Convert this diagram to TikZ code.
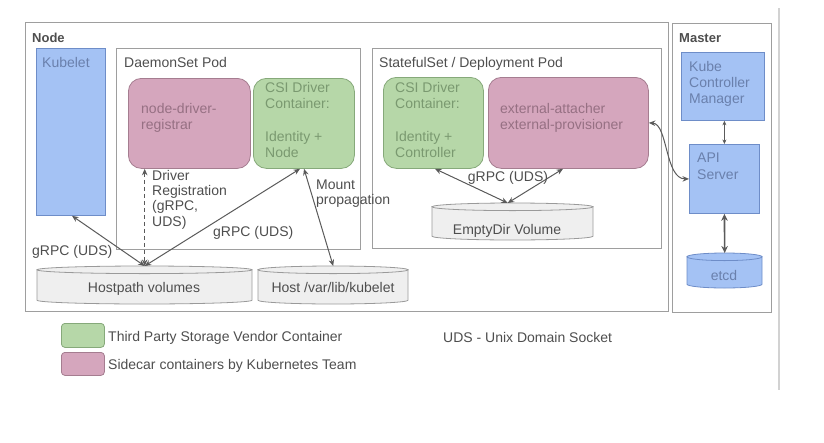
\documentclass[tikz,border=0pt]{standalone}
\usepackage{fontspec}
\setmainfont{Liberation Sans}
\usetikzlibrary{arrows.meta,calc}
\definecolor{framegray}{HTML}{9E9E9E}
\definecolor{kblue}{HTML}{A4C2F4}
\definecolor{kbluedark}{HTML}{6E8DC8}
\definecolor{kbluetext}{HTML}{6A80AC}
\definecolor{kpink}{HTML}{D5A6BD}
\definecolor{kpinkdark}{HTML}{A57D90}
\definecolor{kpinktext}{HTML}{967083}
\definecolor{kgreen}{HTML}{B6D7A8}
\definecolor{kgreendark}{HTML}{86A97A}
\definecolor{kgreentext}{HTML}{7A9970}
\definecolor{cylfill}{HTML}{EFEFEF}
\definecolor{cylline}{HTML}{9A9A9A}
\definecolor{darktext}{HTML}{4E4E4E}
\definecolor{arrowgray}{HTML}{5A5A5A}
\definecolor{sepline}{HTML}{D2D2D2}
\newcommand{\drawcyl}[6]{%
  \pgfmathsetmacro{\cyCx}{(#1+#3)/2}%
  \pgfmathsetmacro{\cyRx}{(#3-#1)/2}%
  \pgfmathsetmacro{\cyTa}{#2+3.8}%
  \pgfmathsetmacro{\cyTb}{#4-3.8}%
  \filldraw[fill=#5, draw=#6, line width=0.8pt] (#1,\cyTa) -- (#1,\cyTb) arc[start angle=180, end angle=360, x radius=\cyRx pt, y radius=3.8pt] -- (#3,\cyTa) -- cycle;
  \filldraw[fill=#5, draw=#6, line width=0.8pt] (\cyCx,\cyTa) ellipse[x radius=\cyRx pt, y radius=3.8pt];
}
\tikzset{
  frame/.style={draw=framegray, line width=0.9pt, anchor=north west, inner sep=0pt},
  bluebox/.style={fill=kblue, draw=kbluedark, line width=0.8pt, anchor=north west, inner sep=0pt},
  pinkbox/.style={fill=kpink, draw=kpinkdark, line width=0.8pt, rounded corners=13pt, anchor=north west, inner sep=0pt},
  greenbox/.style={fill=kgreen, draw=kgreendark, line width=0.8pt, rounded corners=13pt, anchor=north west, inner sep=0pt},
  hole/.style={draw=none, anchor=north west, inner sep=0pt},
  txt/.style={font=\fontsize{14pt}{16.3pt}\selectfont, text=darktext, inner sep=0pt, align=left},
  title/.style={font=\fontsize{13pt}{15pt}\selectfont\bfseries, text=darktext, inner sep=0pt, anchor=base west},
  arr/.style={draw=arrowgray, line width=1pt, {Stealth[length=6.5pt,width=5.5pt]}-{Stealth[length=6.5pt,width=5.5pt]}},
}
\begin{document}
\begin{tikzpicture}[x=1pt,y=-1pt]
\useasboundingbox (0,0) rectangle (824,442);
% separator line
\coordinate (sepTop) at (779,8);
\coordinate (sepBot) at (779,390);
\draw[sepline, line width=2pt] (sepTop) -- (sepBot);
% frames
\node[frame, minimum width=643pt, minimum height=289pt] (nodebox) at (25,22) {};
\node[frame, minimum width=99pt, minimum height=289pt] (masterbox) at (672,23) {};
\node[frame, minimum width=244pt, minimum height=201pt] (dspod) at (116,48) {};
\node[frame, minimum width=289pt, minimum height=200pt] (sspod) at (372,48) {};
% colored boxes
\node[bluebox, minimum width=69pt, minimum height=167pt] (kubelet) at (36,48) {};
\node[pinkbox, minimum width=122pt, minimum height=90pt] (reg) at (128,78) {};
\node[greenbox, minimum width=101pt, minimum height=90pt] (csin) at (253,78) {};
\node[greenbox, minimum width=100pt, minimum height=91pt] (csic) at (383,77) {};
\node[pinkbox, minimum width=160pt, minimum height=91pt] (ext) at (488,77) {};
\node[bluebox, minimum width=83pt, minimum height=68pt] (kcm) at (681,52) {};
\node[bluebox, minimum width=70pt, minimum height=69pt] (api) at (689,144) {};
% cylinders
\drawcyl{37}{266}{252}{304}{cylfill}{cylline}
\node[hole, minimum width=215pt, minimum height=38pt] (hostpath) at (37,266) {};
\drawcyl{258}{266}{408}{304}{cylfill}{cylline}
\node[hole, minimum width=150pt, minimum height=38pt] (hostkub) at (258,266) {};
\drawcyl{432}{203}{593}{240}{cylfill}{cylline}
\node[hole, minimum width=161pt, minimum height=37pt] (emptydir) at (432,203) {};
\drawcyl{687}{253}{762}{288}{kblue}{kbluedark}
\node[hole, minimum width=75pt, minimum height=35pt] (etcd) at (687,253) {};
% legend boxes
\node[fill=kgreen, draw=kgreendark, line width=0.8pt, rounded corners=3.5pt, anchor=north west, inner sep=0pt, minimum width=43pt, minimum height=24pt] (leggreen) at (61,323) {};
\node[fill=kpink, draw=kpinkdark, line width=0.8pt, rounded corners=3.5pt, anchor=north west, inner sep=0pt, minimum width=43pt, minimum height=23pt] (legpink) at (61,352) {};
% titles
\node[title] (tNode) at (32,42) {Node};
\node[title] (tMaster) at (679,42.5) {Master};
\node[txt, anchor=base west, text=kbluetext] (tKubelet) at (42,67) {Kubelet};
\node[txt, anchor=base west] (tDs) at (124,67) {DaemonSet Pod};
\node[txt, anchor=base west] (tSs) at (379,67) {StatefulSet / Deployment Pod};
% box texts
\node[txt, anchor=north west, text=kpinktext] (tReg) at (141,103) {node-driver-\\registrar};
\node[txt, anchor=north west, text=kgreentext] (tCsin) at (265,82) {CSI Driver\\Container:\\[16.3pt]Identity +\\Node};
\node[txt, anchor=north west, text=kgreentext] (tCsic) at (395,82) {CSI Driver\\Container:\\[16.3pt]Identity +\\Controller};
\node[txt, anchor=north west, text=kpinktext] (tExt) at (500,103) {external-attacher\\external-provisioner};
\node[txt, anchor=north west, text=kbluetext] (tKcm) at (689,61) {Kube\\Controller\\Manager};
\node[txt, anchor=north west, text=kbluetext] (tApi) at (697,153) {API\\Server};
\node[txt, anchor=base, text=kbluetext] (tEtcd) at (724,280) {etcd};
\node[txt, anchor=base] (tHostpath) at (144,292) {Hostpath volumes};
\node[txt, anchor=base] (tHostkub) at (333,292) {Host /var/lib/kubelet};
\node[txt, anchor=base] (tEmpty) at (507,234) {EmptyDir Volume};
% connector labels
\node[txt, anchor=north west, font=\fontsize{14pt}{15.3pt}\selectfont] (tDrv) at (152,170) {Driver\\Registration\\(gRPC,\\UDS)};
\node[txt, anchor=base west] (tG1) at (32,255) {gRPC (UDS)};
\node[txt, anchor=base west] (tG2) at (213,236) {gRPC (UDS)};
\node[txt, anchor=north west, font=\fontsize{14pt}{15pt}\selectfont] (tMount) at (316,180) {Mount\\propagation};
\node[txt, anchor=base] (tG3) at (508,181) {gRPC (UDS)};
% legend text
\node[txt, anchor=base west] (tL1) at (108,341) {Third Party Storage Vendor Container};
\node[txt, anchor=base west] (tL2) at (108,369) {Sidecar containers by Kubernetes Team};
\node[txt, anchor=base west] (tUds) at (443,342) {UDS - Unix Domain Socket};
% connectors
\draw[arr] ([xshift=36pt]kubelet.south west) -- (hostpath.north);
\draw[arr, dash pattern=on 4pt off 3pt] (reg.south -| hostpath.north) -- (hostpath.north);
\draw[arr] ([xshift=47pt]csin.south west) -- (hostpath.north);
\draw[arr] ([xshift=51pt]csin.south west) -- (hostkub.north);
\draw[arr] ([xshift=52pt]csic.south west) -- ([xshift=-5pt]emptydir.north);
\draw[arr] ([xshift=75pt]ext.south west) -- ([xshift=-5pt]emptydir.north);
\draw[arr] (ext.east) .. controls ($(ext.east)+(19,1)$) and ($(api.west)+(-24,0)$) .. (api.west);
\draw[draw=arrowgray, line width=0.7pt, {Stealth[length=4.5pt,width=4pt]}-{Stealth[length=4.5pt,width=4pt]}] (kcm.south -| api.north) -- (api.north);
\draw[draw=arrowgray, line width=1.6pt, {Stealth[length=7pt,width=6.5pt]}-{Stealth[length=7pt,width=6.5pt]}] (api.south) -- (etcd.north);
\end{tikzpicture}
\end{document}
